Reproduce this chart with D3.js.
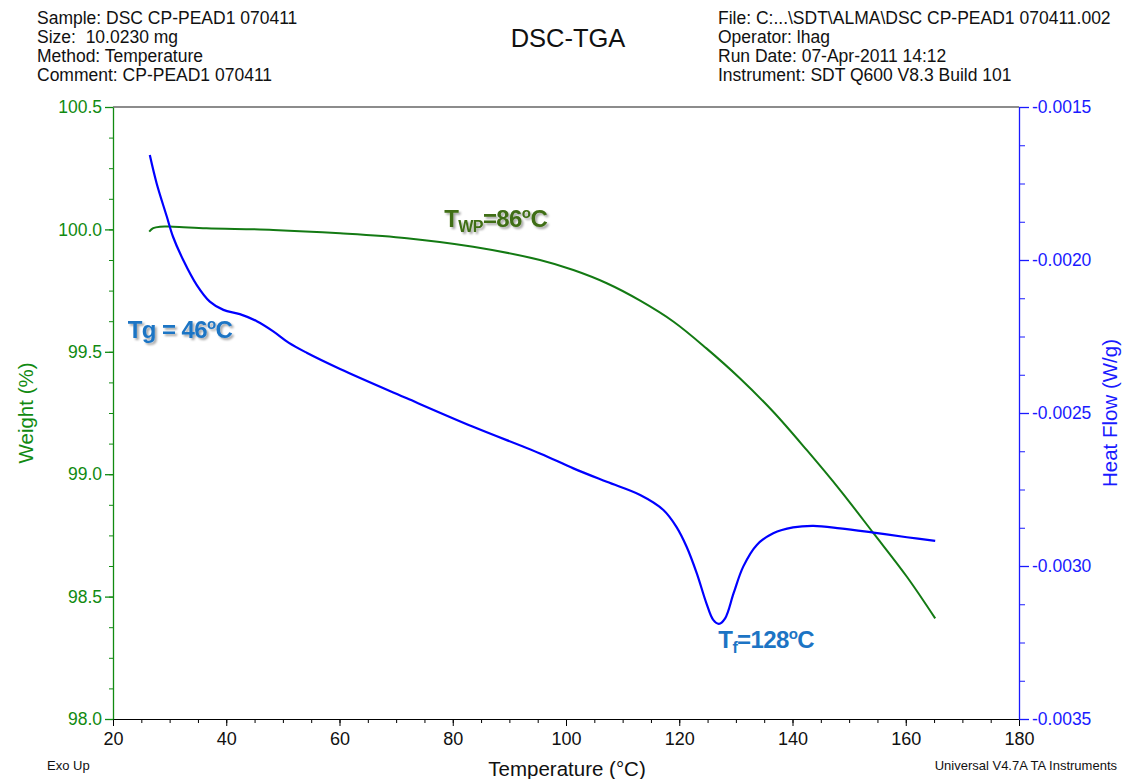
<!DOCTYPE html>
<html>
<head>
<meta charset="utf-8">
<script src="https://cdn.jsdelivr.net/npm/d3@7"></script>
<style>
  body { margin: 0; background: #fff; }
  text { font-family: "Liberation Sans", Arial, sans-serif; }
</style>
</head>
<body>
<div id="chart"></div>
<script>
// weight curve (TGA)
var tempW = [26.4, 27.1, 28.3, 30.6, 36.5, 48.3, 60.1, 71.9, 83.6, 95.4, 101.3, 107.2, 113.1, 119.0, 124.8, 130.7, 136.6, 142.5, 148.4, 154.3, 160.2, 165.2];
var weight = [99.991, 100.005, 100.011, 100.011, 100.005, 99.998, 99.984, 99.964, 99.929, 99.875, 99.834, 99.780, 99.709, 99.623, 99.514, 99.392, 99.255, 99.099, 98.935, 98.759, 98.581, 98.411];

// heat flow curve (DSC)
var tempHF = [26.5, 27.7, 29.5, 30.6, 32.4, 34.8, 37.1, 39.5, 42.4, 45.4, 48.3, 51.0, 54.2, 60.1, 71.9, 83.6, 95.4, 101.3, 107.2, 113.1, 117.2, 119.5, 121.3, 123.1, 124.8, 126.0, 127.0, 128.1, 129.6, 131.3, 133.7, 136.6, 140.1, 143.7, 148.4, 154.3, 160.2, 165.2];
var heatFlow = [-0.001657, -0.001749, -0.001858, -0.001924, -0.002000, -0.002082, -0.002136, -0.002163, -0.002177, -0.002200, -0.002233, -0.002270, -0.002303, -0.002356, -0.002452, -0.002545, -0.002632, -0.002681, -0.002725, -0.002768, -0.002817, -0.002872, -0.002937, -0.003024, -0.003122, -0.003176, -0.003189, -0.003171, -0.003089, -0.003002, -0.002931, -0.002893, -0.002874, -0.002869, -0.002877, -0.002891, -0.002906, -0.002918];

// ticks
var xTicks = [20, 40, 60, 80, 100, 120, 140, 160, 180];
var wTicks = [98.0, 98.5, 99.0, 99.5, 100.0, 100.5];
var hfTicks = [-0.0035, -0.0030, -0.0025, -0.0020, -0.0015];

var headerLeft = ["Sample: DSC CP-PEAD1 070411", "Size:  10.0230 mg", "Method: Temperature", "Comment: CP-PEAD1 070411"];
var headerRight = ["File: C:...\\SDT\\ALMA\\DSC CP-PEAD1 070411.002", "Operator: lhag", "Run Date: 07-Apr-2011 14:12", "Instrument: SDT Q600 V8.3 Build 101"];

var W = 1142, H = 779;
var margin = {top: 107, right: 123, bottom: 60, left: 113},
    width = W - margin.left - margin.right,
    height = H - margin.top - margin.bottom;

var loc = d3.formatLocale({decimal: ".", thousands: ",", grouping: [3], currency: ["", ""], minus: "-"});

var svg = d3.select("#chart").append("svg")
    .attr("width", W)
    .attr("height", H);

var defs = svg.append("defs");
defs.append("filter").attr("id", "shadow")
    .attr("x", "-10%").attr("y", "-20%").attr("width", "130%").attr("height", "150%")
  .append("feDropShadow")
    .attr("dx", 2).attr("dy", 2).attr("stdDeviation", 1.2)
    .attr("flood-color", "#000").attr("flood-opacity", 0.35);

var g = svg.append("g").attr("transform", "translate(" + margin.left + "," + margin.top + ")");

var x = d3.scaleLinear().domain([20, 180]).range([0, width]);
var yW = d3.scaleLinear().domain([98.0, 100.5]).range([height, 0]);
var yH = d3.scaleLinear().domain([-0.0035, -0.0015]).range([height, 0]);

var green = "#118a11", blue = "#1a1aff";

// minor ticks
g.append("g")
    .attr("transform", "translate(0," + height + ")")
    .call(d3.axisBottom(x).tickValues(d3.range(20, 181, 5)).tickSize(4).tickFormat(""))
    .call(function(s) { s.select(".domain").remove(); s.selectAll("line").attr("stroke", "#000"); });
g.append("g")
    .call(d3.axisLeft(yW).tickValues(d3.range(0, 21).map(function(i) { return 98 + i * 0.125; })).tickSize(4).tickFormat(""))
    .call(function(s) { s.select(".domain").remove(); s.selectAll("line").attr("stroke", green); });
g.append("g")
    .attr("transform", "translate(" + width + ",0)")
    .call(d3.axisRight(yH).tickValues(d3.range(0, 17).map(function(i) { return -0.0035 + i * 0.000125; })).tickSize(6).tickFormat(""))
    .call(function(s) { s.select(".domain").remove(); s.selectAll("line").attr("stroke", blue); });

// top border
g.append("line").attr("x1", 0).attr("x2", width).attr("y1", 0).attr("y2", 0)
    .attr("stroke", "#666").attr("stroke-width", 1.5);

// major axes
var xAxis = g.append("g")
    .attr("transform", "translate(0," + height + ")")
    .call(d3.axisBottom(x).tickValues(xTicks).tickSize(7).tickSizeOuter(0).tickPadding(6).tickFormat(d3.format("d")));
xAxis.selectAll("text").attr("font-size", 18).attr("fill", "#111").attr("font-family", "Liberation Sans, Arial");
xAxis.selectAll("line, path").attr("stroke", "#000");

var wAxis = g.append("g")
    .call(d3.axisLeft(yW).tickValues(wTicks).tickSize(8).tickSizeOuter(0).tickPadding(3).tickFormat(loc.format(".1f")));
wAxis.selectAll("text").attr("font-size", 17.5).attr("fill", green).attr("font-family", "Liberation Sans, Arial");
wAxis.selectAll("line, path").attr("stroke", green).attr("stroke-width", 1.3);

var hAxis = g.append("g")
    .attr("transform", "translate(" + width + ",0)")
    .call(d3.axisRight(yH).tickValues(hfTicks).tickSize(10).tickSizeOuter(0).tickPadding(3).tickFormat(loc.format(".4f")));
hAxis.selectAll("text").attr("font-size", 17.5).attr("fill", blue).attr("font-family", "Liberation Sans, Arial");
hAxis.selectAll("line, path").attr("stroke", blue).attr("stroke-width", 1.3);

// curves
var lineW = d3.line()
    .x(function(d, i) { return x(tempW[i]); })
    .y(function(d) { return yW(d); })
    .curve(d3.curveCatmullRom.alpha(0.5));
var lineH = d3.line()
    .x(function(d, i) { return x(tempHF[i]); })
    .y(function(d) { return yH(d); })
    .curve(d3.curveCatmullRom.alpha(0.5));

g.append("path").datum(weight).attr("d", lineW)
    .attr("fill", "none").attr("stroke", "#137a13").attr("stroke-width", 2);
g.append("path").datum(heatFlow).attr("d", lineH)
    .attr("fill", "none").attr("stroke", "#0000ff").attr("stroke-width", 2.2);

// headers
svg.append("g").selectAll("text").data(headerLeft).enter().append("text")
    .attr("x", 37).attr("y", function(d, i) { return 24 + i * 19; })
    .attr("font-size", 17.5).attr("fill", "#111")
    .attr("xml:space", "preserve")
    .text(function(d) { return d; });
svg.append("g").selectAll("text").data(headerRight).enter().append("text")
    .attr("x", 718).attr("y", function(d, i) { return 24 + i * 19; })
    .attr("font-size", 17.5).attr("fill", "#111")
    .text(function(d) { return d; });
svg.append("text").attr("x", 568).attr("y", 47).attr("text-anchor", "middle")
    .attr("font-size", 25.5).attr("fill", "#111").text("DSC-TGA");

// axis titles
svg.append("text").attr("transform", "translate(33," + (margin.top + height / 2) + ") rotate(-90)")
    .attr("text-anchor", "middle").attr("font-size", 20.5).attr("fill", green).text("Weight (%)");
svg.append("text").attr("transform", "translate(1117," + (margin.top + height / 2) + ") rotate(-90)")
    .attr("text-anchor", "middle").attr("font-size", 20.5).attr("fill", blue).text("Heat Flow (W/g)");
svg.append("text").attr("x", 567).attr("y", 776).attr("text-anchor", "middle")
    .attr("font-size", 20.5).attr("fill", "#111").text("Temperature (°C)");
svg.append("text").attr("x", 47).attr("y", 770).attr("font-size", 13).attr("fill", "#111").text("Exo Up");
svg.append("text").attr("x", 1117).attr("y", 770).attr("text-anchor", "end")
    .attr("font-size", 13).attr("fill", "#111").text("Universal V4.7A TA Instruments");

// annotations
function annot(px, py, parts, color, shadow) {
  var t = g.append("text")
      .attr("x", x(px)).attr("y", py)
      .attr("font-size", 24).attr("font-weight", "bold").attr("fill", color)
      .attr("letter-spacing", -0.6);
  if (shadow) t.attr("filter", "url(#shadow)");
  parts.forEach(function(p) {
    var s = t.append("tspan").text(p.t);
    if (p.sub) s.attr("font-size", 16).attr("dy", 5);
    if (p.sup) s.attr("font-size", 15).attr("dy", -9);
    if (p.back) s.attr("dy", p.back);
  });
  return t;
}
annot(22.6, 231, [{t: "Tg = 46"}, {t: "o", sup: true}, {t: "C", back: 9}], "#1c74c4", true);
annot(78.5, 120, [{t: "T"}, {t: "WP", sub: true}, {t: "=86", back: -5}, {t: "o", sup: true}, {t: "C", back: 9}], "#3f6e14", true);
annot(126.9, 541, [{t: "T"}, {t: "f", sub: true}, {t: "=128", back: -5}, {t: "o", sup: true}, {t: "C", back: 9}], "#1c74c4", false);
</script>
</body>
</html>
